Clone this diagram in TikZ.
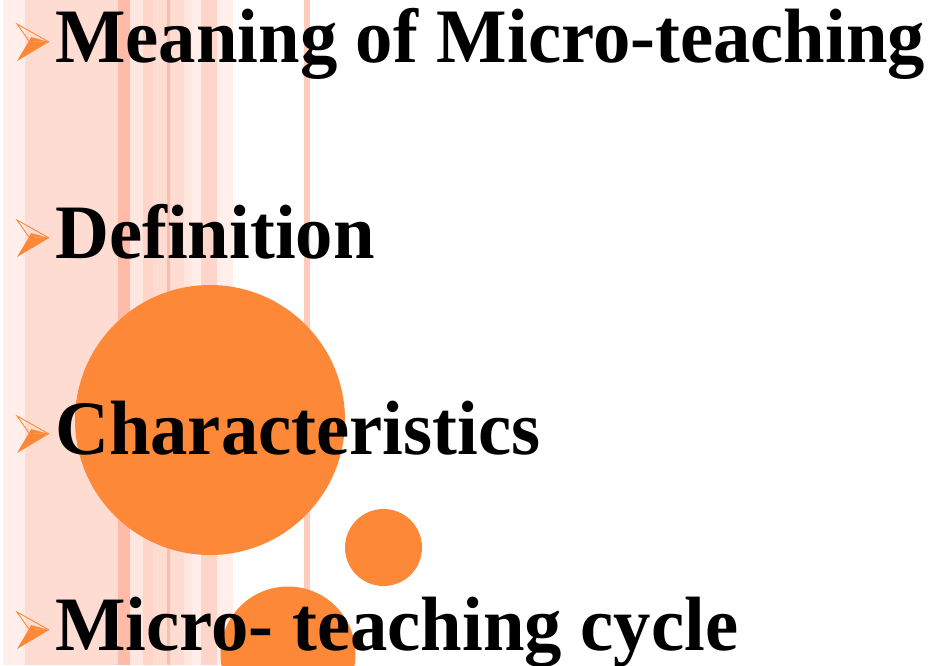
\documentclass[tikz,border=0pt]{standalone}
\usepackage{fontspec}
\newfontfamily\slidefont[FakeStretch=0.97]{Liberation Serif}
\usetikzlibrary{positioning}

\definecolor{stripeA}{RGB}{255,238,234}
\definecolor{stripeB}{RGB}{255,220,210}
\definecolor{stripeC}{RGB}{255,187,167}
\definecolor{stripeD}{RGB}{255,230,222}
\definecolor{stripeE}{RGB}{255,213,202}
\definecolor{stripeF}{RGB}{255,203,187}
\definecolor{dotorange}{RGB}{253,137,56}

\begin{document}
\begin{tikzpicture}[x=1pt,y=-1pt,
  item/.style={anchor=base west,inner sep=0pt,
    font=\slidefont\bfseries\fontsize{77}{80}\selectfont},
  arrowbullet/.pic={
    \fill[dotorange] (-26,-21) -- (-6,-20) -- (-38,-1) -- cycle;
    \fill[dotorange] (-24,-25) -- (-6,-20) -- (-26,-21) -- cycle;
    \draw[dotorange,line width=0.9pt,line join=miter] (-26,-21) -- (-38,-38) -- (-6,-20);
  }]
\path[use as bounding box] (0,0) rectangle (933,665);
%\fill[white] (0,0) rectangle (933,665);
\foreach \a/\b/\c in {3/25/stripeA,25/118/stripeB,118/130/stripeC,130/143/stripeD,
  143/153/stripeE,153/167/stripeB,167/170/stripeC,170/184/stripeB,184/192/stripeD,
  192/201/stripeA,201/217/stripeE,217/233/stripeA,304/310/stripeF}
  \fill[\c] (\a,0) rectangle (\b,665);

\fill[dotorange] (210,420) circle[radius=135];
\fill[dotorange] (383.5,547.5) circle[radius=38.5];
\fill[dotorange] (288,654) circle[radius=67.5];

\path node[item] at (55,62) (m) {Meaning of Micro-teaching};
\path node[item, below=196pt of m.base west, anchor=base west] (d) {Definition};
\path node[item, below=196pt of d.base west, anchor=base west] (c) {Characteristics};
\path node[item, below=196pt of c.base west, anchor=base west] (k) {Micro- teaching cycle};

\foreach \n in {m,d,c,k}
  \pic at (\n.base west) {arrowbullet};
\end{tikzpicture}
\end{document}
